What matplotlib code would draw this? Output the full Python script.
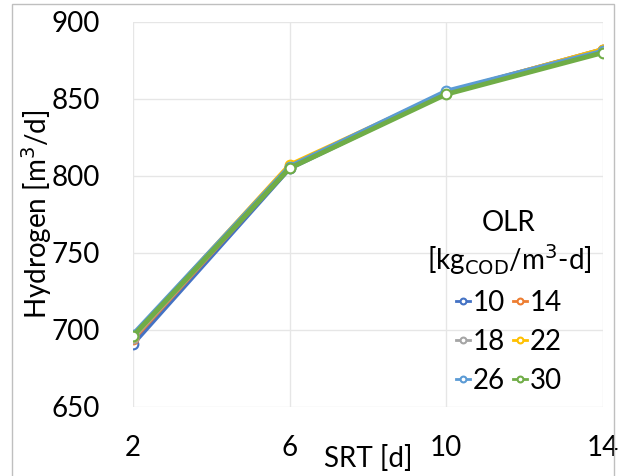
import matplotlib.pyplot as plt
from matplotlib.patches import Rectangle

plt.rcParams['font.family'] = ['Lato', 'DejaVu Sans']

srt = [2, 6, 10, 14]
olr = ['10', '14', '18', '22', '26', '30']
colors = ['#4472C4', '#ED7D31', '#A5A5A5', '#FFC000', '#5B9BD5', '#70AD47']

h_10 = [691, 805, 854, 881]
h_14 = [694, 806, 854, 882]
h_18 = [695, 806, 854, 882]
h_22 = [696, 807, 854, 882]
h_26 = [697, 806, 855, 881]
h_30 = [696, 805, 853, 880]
series = [h_10, h_14, h_18, h_22, h_26, h_30]

fig = plt.figure(figsize=(6.24, 4.76), dpi=100)
ax = fig.add_axes([0.213, 0.145, 0.753, 0.809])

for lab, c, vals in zip(olr, colors, series):
    ax.plot(srt, vals, color=c, lw=3.5, marker='o', ms=7, mfc='white',
            mec=c, mew=1.5, label=lab)

ax.set_xlim(2, 14)
ax.set_ylim(650, 900)
ax.set_xticks(srt)
ax.set_yticks([650, 700, 750, 800, 850, 900])
ax.grid(True, color='#E6E6E6', lw=1)
ax.set_axisbelow(True)
for s in ax.spines.values():
    s.set_visible(False)
ax.tick_params(length=0, labelsize=20)
ax.tick_params(axis='x', pad=20)
ax.tick_params(axis='y', pad=24)
ax.set_ylabel('Hydrogen [m$^3$/d]', fontsize=20, labelpad=-2)
ax.set_xlabel('SRT [d]', fontsize=20, labelpad=-11)

# legend filled row by row, like the reference
handles, labels = ax.get_legend_handles_labels()
order = [0, 2, 4, 1, 3, 5]
leg = ax.legend([handles[i] for i in order], [labels[i] for i in order],
                title='OLR\n[kg$_{\\mathrm{COD}}$/m$^3$-d]', ncol=2, frameon=False,
                fontsize=20, title_fontsize=20, handlelength=0.5,
                handletextpad=0.1, columnspacing=0.3, markerscale=0.6,
                loc='center', bbox_to_anchor=(0.8, 0.272), labelspacing=0.47)
leg.get_title().set_multialignment('center')
for h in leg.legend_handles:
    h.set_linewidth(2)

fig.patches.append(Rectangle((0.02, -0.01), 0.964, 1.0016, transform=fig.transFigure,
                             fill=False, ec='#BFBFBF', lw=1))

fig.savefig('out.png', dpi=100)
